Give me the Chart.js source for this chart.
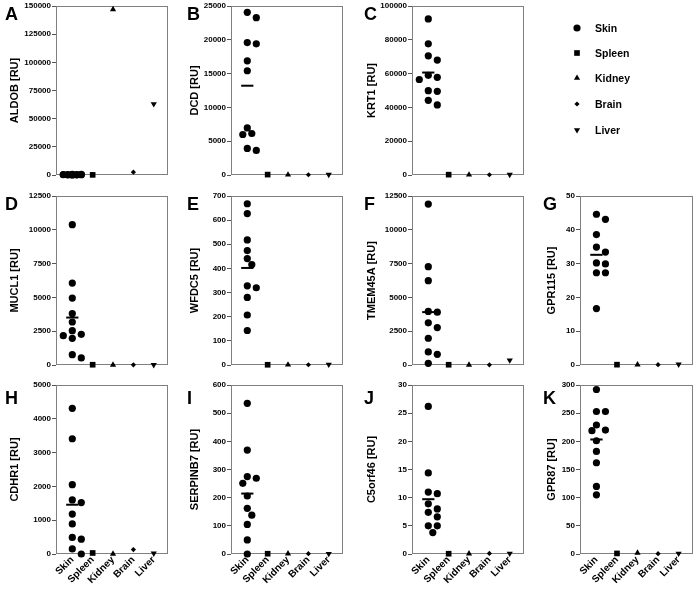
<!DOCTYPE html>
<html>
<head>
<meta charset="utf-8">
<script src="https://cdn.jsdelivr.net/npm/chart.js@4/dist/chart.umd.min.js"></script>
<style>
  body { margin: 0; background: #fff; width: 697px; height: 594px; position: relative; overflow: hidden;
         font-family: "Liberation Sans", Arial, sans-serif; }
  canvas { position: absolute; }
  .letter { position: absolute; font-size: 18px; font-weight: bold; line-height: 18px; color: #000; }
  .lg { position: absolute; font-size: 10.5px; font-weight: bold; line-height: 12px; color: #000; }
</style>
</head>
<body>
<script>
const tissues = ['Skin', 'Spleen', 'Kidney', 'Brain', 'Liver'];

// Skin = 11 donors (scatter), other tissues = one pooled value each (Spleen, Kidney, Brain, Liver)
const aldobSkin = [300, 150, 500, 80, 400, 200, 600, 100, 250, 350, 450];
const aldobOther = [100, 147000, 2500, 63000];
const dcdSkin = [24060, 23270, 19590, 19400, 16890, 15420, 6970, 6140, 5990, 3930, 3630];
const dcdOther = [60, 40, 40, 50];
const krt1Skin = [92350, 77600, 70540, 67990, 59000, 57800, 56500, 49910, 49520, 44210, 41460];
const krt1Other = [200, 150, 150, 200];
const mucl1Skin = [10380, 6060, 4950, 3800, 3180, 2540, 2270, 2170, 1970, 760, 520];
const mucl1Other = [20, 10, 10, 10];
const wfdc5Skin = [668, 627, 518, 474, 441, 416, 328, 320, 280, 207, 143];
const wfdc5Other = [1, 1, 1, 2];
const tmem45aSkin = [11900, 7270, 6240, 3960, 3910, 3120, 2770, 1980, 965, 790, 124];
const tmem45aOther = [20, 10, 10, 350];
const gpr115Skin = [44.6, 43.1, 38.6, 34.9, 33.4, 30.2, 29.9, 27.3, 27.3, 16.7];
const gpr115Other = [0.1, 0.1, 0.1, 0.2];
const cdhr1Skin = [4310, 3410, 2050, 1600, 1520, 1180, 890, 490, 440, 150, 0];
const cdhr1Other = [30, 5, 130, 20];
const serpinb7Skin = [535, 369, 275, 269, 251, 206, 162, 138, 105, 50, 0];
const serpinb7Other = [1, 1, 1, 1];
const c5orf46Skin = [26.2, 14.4, 11.0, 10.7, 8.9, 8.0, 7.4, 6.6, 5.0, 5.0, 3.8];
const c5orf46Other = [0.05, 0.05, 0.1, 0.1];
const gpr87Skin = [292, 253, 253, 229, 220, 219, 201, 182, 162, 120, 105];
const gpr87Other = [1, 2, 0.5, 1];

const panels = [
  { id: 'A', gene: 'ALDOB', skin: aldobSkin, other: aldobOther, yMax: 150000, step: 25000, col: 0, row: 0 },
  { id: 'B', gene: 'DCD', skin: dcdSkin, other: dcdOther, yMax: 25000, step: 5000, col: 1, row: 0 },
  { id: 'C', gene: 'KRT1', skin: krt1Skin, other: krt1Other, yMax: 100000, step: 20000, col: 2, row: 0 },
  { id: 'D', gene: 'MUCL1', skin: mucl1Skin, other: mucl1Other, yMax: 12500, step: 2500, col: 0, row: 1 },
  { id: 'E', gene: 'WFDC5', skin: wfdc5Skin, other: wfdc5Other, yMax: 700, step: 100, col: 1, row: 1 },
  { id: 'F', gene: 'TMEM45A', skin: tmem45aSkin, other: tmem45aOther, yMax: 12500, step: 2500, col: 2, row: 1 },
  { id: 'G', gene: 'GPR115', skin: gpr115Skin, other: gpr115Other, yMax: 50, step: 10, col: 3, row: 1 },
  { id: 'H', gene: 'CDHR1', skin: cdhr1Skin, other: cdhr1Other, yMax: 5000, step: 1000, col: 0, row: 2 },
  { id: 'I', gene: 'SERPINB7', skin: serpinb7Skin, other: serpinb7Other, yMax: 600, step: 100, col: 1, row: 2 },
  { id: 'J', gene: 'C5orf46', skin: c5orf46Skin, other: c5orf46Other, yMax: 30, step: 5, col: 2, row: 2 },
  { id: 'K', gene: 'GPR87', skin: gpr87Skin, other: gpr87Other, yMax: 300, step: 50, col: 3, row: 2 }
];

// layout (pixels)
const cols = [
  { left: 8, plotL: 56, plotR: 168 },
  { left: 188, plotL: 231, plotR: 343 },
  { left: 365, plotL: 412, plotR: 524 },
  { left: 545, plotL: 580, plotR: 693 }
];
const rows = [0, 190, 379];
const letterTop = [5, 195, 389];
const plotH = 169;
const FONT = '"Liberation Sans", Arial, sans-serif';

const markers = [
  { pointStyle: 'circle', radius: 3.6, rotation: 0 },
  { pointStyle: 'rect', radius: 4, rotation: 0 },
  { pointStyle: 'triangle', radius: 3.6, rotation: 0 },
  { pointStyle: 'rectRot', radius: 2.6, rotation: 0 },
  { pointStyle: 'triangle', radius: 3.6, rotation: 180 }
];

// simple beeswarm so skin dots don't sit on top of each other
function swarm(vals, yMax, plotW) {
  const kx = plotW / 5.5, ky = plotH / yMax;
  const steps = [0, 4.5, -4.5, 9, -9];
  const placed = [];
  const xs = new Array(vals.length);
  const order = vals.map((v, i) => i).sort((a, b) => vals[b] - vals[a]);
  for (const i of order) {
    const y = vals[i] * ky;
    let best = 0, bestD = -1;
    for (const s of steps) {
      let d = Infinity;
      for (const p of placed) d = Math.min(d, Math.hypot(p.x - s, p.y - y));
      if (d >= 7) { best = s; break; }
      if (d > bestD) { bestD = d; best = s; }
    }
    placed.push({ x: best, y });
    xs[i] = 1 + best / kx;
  }
  return xs;
}

const framePlugin = {
  id: 'frame',
  beforeDatasetsDraw(chart) {
    const a = chart.chartArea, ctx = chart.ctx;
    ctx.save();
    ctx.strokeStyle = '#808080';
    ctx.lineWidth = 1;
    ctx.strokeRect(Math.round(a.left) + 0.5, Math.round(a.top) + 0.5,
      Math.round(a.right - a.left) - 1, Math.round(a.bottom - a.top) - 1);
    ctx.restore();
  }
};

panels.forEach(p => {
  const c = cols[p.col];
  const last = p.row === 2;
  const w = c.plotR - c.left + 4;
  const h = 6 + plotH + (last ? 40 : 6);
  const cv = document.createElement('canvas');
  cv.width = w; cv.height = h;
  cv.style.left = c.left + 'px';
  cv.style.top = rows[p.row] + 'px';
  document.body.appendChild(cv);

  const xs = swarm(p.skin, p.yMax, c.plotR - c.plotL);
  const mean = p.skin.reduce((a, b) => a + b, 0) / p.skin.length;
  const base = { backgroundColor: '#000', borderColor: '#000', borderWidth: 0, clip: false };
  const datasets = [];
  datasets.push({ ...base, data: p.skin.map((v, i) => ({ x: xs[i], y: v })),
    pointStyle: markers[0].pointStyle, pointRadius: markers[0].radius });
  p.other.forEach((v, i) => {
    const m = markers[i + 1];
    datasets.push({ ...base, data: [{ x: i + 2, y: v }], pointStyle: m.pointStyle,
      pointRadius: m.radius, pointRotation: m.rotation });
  });
  datasets.push({ data: [{ x: 0.7, y: mean }, { x: 1.3, y: mean }], showLine: true, pointRadius: 0,
    borderColor: '#000', borderWidth: 2, order: -1, clip: false });

  const xScale = {
    type: 'linear', min: 0.2, max: 5.7, display: last,
    afterBuildTicks: s => { s.ticks = tissues.map((t, i) => ({ value: i + 1 })); },
    ticks: { autoSkip: false, minRotation: 45, maxRotation: 45, padding: 0, color: '#000',
      font: { family: FONT, size: 10, weight: 'bold' }, callback: v => tissues[v - 1] || '' },
    grid: { display: false, drawTicks: false },
    border: { display: false }
  };
  if (last) xScale.afterFit = s => { s.height = 40; };

  new Chart(cv.getContext('2d'), {
    type: 'scatter',
    data: { datasets },
    options: {
      responsive: false,
      animation: false,
      events: [],
      layout: { padding: { top: 6, right: 4, bottom: last ? 0 : 6, left: 0 } },
      plugins: { legend: { display: false }, tooltip: { enabled: false } },
      scales: {
        x: xScale,
        y: {
          min: 0, max: p.yMax,
          ticks: { stepSize: p.step, padding: 1, color: '#000',
            font: { family: FONT, size: 8, weight: 'bold' }, callback: v => String(v) },
          grid: { drawOnChartArea: false, tickLength: 4, color: '#555' },
          border: { display: false },
          title: { display: true, text: p.gene + ' [RU]', color: '#000', padding: 0,
            font: { family: FONT, size: 11, weight: 'bold' } },
          afterFit: s => { s.width = c.plotL - c.left; }
        }
      }
    },
    plugins: [framePlugin]
  });

  const lt = document.createElement('div');
  lt.className = 'letter';
  lt.textContent = p.id;
  lt.style.left = (p.col === 0 ? 5 : c.left - (p.col === 3 ? 2 : 1)) + 'px';
  lt.style.top = letterTop[p.row] + 'px';
  document.body.appendChild(lt);
});

// legend
const legendY = [28, 53, 78, 104, 130];
const lc = document.createElement('canvas');
lc.width = 20; lc.height = 130;
lc.style.left = '567px'; lc.style.top = '18px';
document.body.appendChild(lc);
const lctx = lc.getContext('2d');
lctx.fillStyle = '#000';
lctx.strokeStyle = '#000';
tissues.forEach((t, i) => {
  const m = markers[i];
  if (Chart.helpers && Chart.helpers.drawPoint) {
    Chart.helpers.drawPoint(lctx, { pointStyle: m.pointStyle, radius: m.radius, rotation: m.rotation, borderWidth: 0 },
      10, legendY[i] - 18);
  }
  const d = document.createElement('div');
  d.className = 'lg';
  d.textContent = t;
  d.style.left = '595px';
  d.style.top = (legendY[i] - 6) + 'px';
  document.body.appendChild(d);
});
</script>
</body>
</html>
